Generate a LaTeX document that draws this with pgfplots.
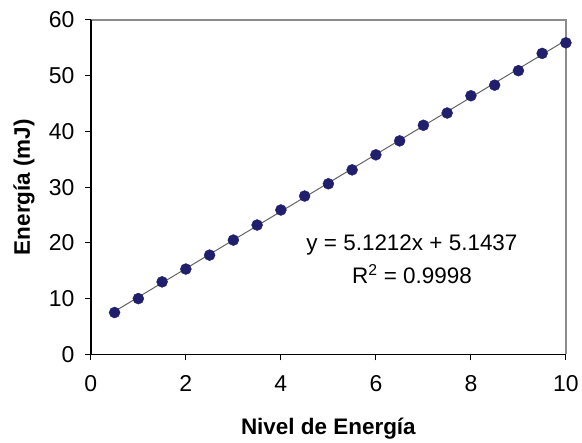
\documentclass[border=0pt]{standalone}
\usepackage{fontspec}
\setmainfont{Liberation Sans}
\usepackage{pgfplots}
\pgfplotsset{compat=1.18}
\definecolor{navy}{RGB}{31,31,110}
\definecolor{frame}{RGB}{140,140,140}
\definecolor{trend}{RGB}{100,100,100}
\begin{document}
\begin{tikzpicture}
\begin{axis}[
  scale only axis, width=476bp, height=335bp,
  xmin=0, xmax=10, ymin=0, ymax=60,
  xtick={0,2,...,10}, ytick={0,10,...,60},
  xtick pos=bottom, ytick pos=left,
  tick align=outside, major tick length=6bp,
  tick style={black, line width=1bp},
  axis line style={draw=none},
  ticklabel style={font=\fontsize{23bp}{27bp}\selectfont},
  xticklabel style={yshift=-12bp},
  yticklabel style={xshift=-7bp},
  /pgf/number format/assume math mode=true,
  xlabel={Nivel de Energía}, ylabel={Energía (mJ)},
  label style={font=\bfseries\fontsize{22.5bp}{27bp}\selectfont},
  xlabel style={at={(axis description cs:0.5,-0.2209)}, anchor=center},
  ylabel style={at={(axis description cs:-0.1408,0.5)}, anchor=center},
  clip=false,
]
\addplot[trend, line width=1bp] coordinates {(0.5,7.704) (10,56.356)};
\addplot[only marks, mark=*, mark size=5.5bp, navy] coordinates {
(0.5,7.5) (1,10.0) (1.5,13.0) (2,15.3) (2.5,17.8) (3,20.5) (3.5,23.2) (4,25.9)
(4.5,28.4) (5,30.6) (5.5,33.1) (6,35.8) (6.5,38.3) (7,41.1) (7.5,43.3) (8,46.4)
(8.5,48.3) (9,50.9) (9.5,54.0) (10,55.9)};
\draw[frame, line width=2bp] (rel axis cs:0,1) -- (rel axis cs:1,1) -- (rel axis cs:1,0);
\draw[black, line width=1.5bp] (rel axis cs:0,1) -- (rel axis cs:0,0) -- (rel axis cs:1,0);
\node[align=center, font=\fontsize{22.5bp}{33bp}\selectfont] at (axis cs:6.76,17.1) {y = 5.1212x + 5.1437\\R\textsuperscript{2} = 0.9998};
\path (rel axis cs:-0.1912,-0.2567) rectangle (rel axis cs:1.0315,1.0597);
\end{axis}
\end{tikzpicture}
\end{document}
